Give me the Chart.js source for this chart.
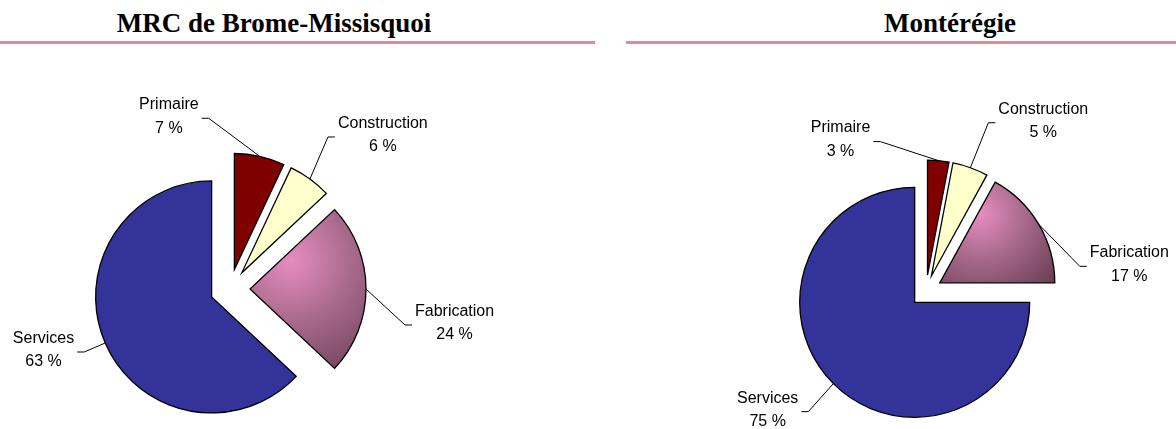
<!DOCTYPE html>
<html>
<head>
<meta charset="utf-8">
<script src="https://cdn.jsdelivr.net/npm/chart.js@4"></script>
<style>
  html, body { margin: 0; padding: 0; background: #fff; }
  #wrap { position: relative; width: 1176px; height: 429px; overflow: hidden; }
  .title {
    position: absolute; top: 8px; line-height: 27px;
    font: bold 27px "Liberation Serif", "Times New Roman", serif;
    color: #000; transform: translateX(-50%); white-space: nowrap;
  }
  .rule { position: absolute; top: 41px; height: 3px; background: #e2899b; }
  canvas { position: absolute; left: 0; top: 0; }
</style>
</head>
<body>
<div id="wrap">
  <div class="title" style="left:274px">MRC de Brome-Missisquoi</div>
  <div class="title" style="left:950px">Montérégie</div>
  <div class="rule" style="left:0;width:595px"></div>
  <div class="rule" style="left:626px;width:550px"></div>
  <canvas id="chartLeft" width="1176" height="429"></canvas>
  <canvas id="chartRight" width="1176" height="429"></canvas>
</div>
<script>
const categories = ["Primaire", "Construction", "Fabrication", "Services"];
const mrcValues = [7, 6, 24, 63];
const monteregieValues = [3, 5, 17, 75];

// styles
const sliceColors = ["#800000", "#ffffcc", "#b06e90", "#333399"];
const gradientIndex = 2;
const labelFont = '16px "Liberation Sans", Arial, sans-serif';

// exploded slices, gradient on Fabrication, leader-line labels
const pieExtras = {
  id: "pieExtras",
  afterDatasetsUpdate(chart, args, opts) {
    const meta = chart.getDatasetMeta(0);
    meta.data.forEach(arc => {
      const mid = (arc.startAngle + arc.endAngle) / 2;
      arc.x += Math.cos(mid) * opts.explode;
      arc.y += Math.sin(mid) * opts.explode;
    });
  },
  beforeDatasetsDraw(chart) {
    const ctx = chart.ctx;
    const arc = chart.getDatasetMeta(0).data[gradientIndex];
    if (!arc) return;
    const pts = [[arc.x, arc.y]];
    for (let k = 0; k <= 40; k++) {
      const a = arc.startAngle + (arc.endAngle - arc.startAngle) * k / 40;
      pts.push([arc.x + Math.cos(a) * arc.outerRadius, arc.y + Math.sin(a) * arc.outerRadius]);
    }
    const xs = pts.map(p => p[0]), ys = pts.map(p => p[1]);
    const minX = Math.min(...xs), maxX = Math.max(...xs);
    const minY = Math.min(...ys), maxY = Math.max(...ys);
    const w = maxX - minX, h = maxY - minY;
    const hx = minX + w * 0.35, hy = minY + h * 0.32;
    const g = ctx.createRadialGradient(hx, hy, 0, hx, hy, Math.max(w, h) * 0.85);
    g.addColorStop(0, "#e78dc0");
    g.addColorStop(0.45, "#a86a8c");
    g.addColorStop(1, "#6c3f56");
    arc.options = Object.assign({}, arc.options, { backgroundColor: g });
  },
  afterDatasetsDraw(chart, args, opts) {
    const ctx = chart.ctx;
    const meta = chart.getDatasetMeta(0);
    const values = chart.data.datasets[0].data;
    ctx.save();
    ctx.font = labelFont;
    ctx.fillStyle = "#000";
    ctx.strokeStyle = "#000";
    ctx.lineWidth = 1;
    ctx.textAlign = "center";
    ctx.textBaseline = "middle";
    meta.data.forEach((arc, i) => {
      const mid = (arc.startAngle + arc.endAngle) / 2;
      const ex = arc.x + Math.cos(mid) * arc.outerRadius;
      const ey = arc.y + Math.sin(mid) * arc.outerRadius;
      const [dx, dy] = opts.leaders[i];
      const bx = ex + dx, by = ey + dy;
      const dir = dx < 0 ? -1 : 1;
      const tx = bx + dir * 7;
      ctx.beginPath();
      ctx.moveTo(ex, ey);
      ctx.lineTo(bx, by);
      ctx.lineTo(tx, by);
      ctx.stroke();
      const lines = [chart.data.labels[i], values[i] + " %"];
      const w = Math.max(...lines.map(l => ctx.measureText(l).width));
      const cx = tx + dir * (3 + w / 2);
      ctx.fillText(lines[0], cx, by - 13.5);
      ctx.fillText(lines[1], cx, by + 10);
    });
    ctx.restore();
  }
};

function makePie(canvasId, values, padding, radius, explode, leaders) {
  return new Chart(document.getElementById(canvasId), {
    type: "pie",
    data: {
      labels: categories,
      datasets: [{
        data: values,
        backgroundColor: sliceColors,
        borderColor: "#000",
        borderWidth: 1.3,
        borderJoinStyle: "miter",
        radius: radius,
        clip: false
      }]
    },
    options: {
      responsive: false,
      animation: false,
      events: [],
      layout: { padding: padding },
      plugins: {
        legend: { display: false },
        tooltip: { enabled: false },
        pieExtras: { explode: explode, leaders: leaders }
      }
    },
    plugins: [pieExtras]
  });
}

makePie("chartLeft", mrcValues,
  { left: 0, right: 716, top: 149, bottom: 0 }, 116, 20,
  [[-51, -38], [18, -42], [39, 36], [-21, 9]]);

makePie("chartRight", monteregieValues,
  { left: 676, right: 0, top: 153, bottom: 0 }, 115, 16,
  [[-58, -19], [18, -45], [41, 42], [-25, 28]]);
</script>
</body>
</html>
